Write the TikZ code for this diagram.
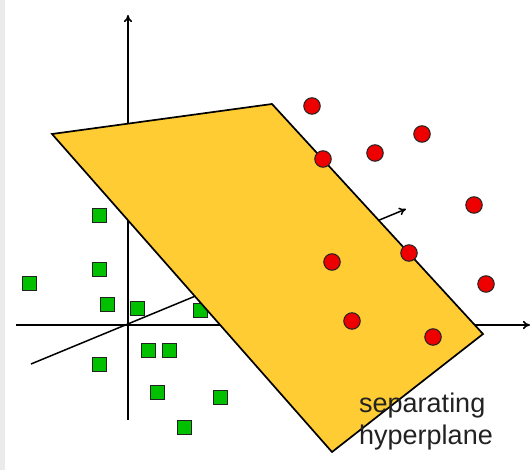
\documentclass[tikz,border=0pt]{standalone}
\usepackage{fontspec}
\setmainfont{Liberation Sans}
\usepackage{xcolor}
\usetikzlibrary{arrows.meta}
\definecolor{plane}{HTML}{FFCC33}
\definecolor{ptgreen}{HTML}{00C000}
\definecolor{ptred}{HTML}{EE0000}
\definecolor{edge}{HTML}{222222}

\begin{document}
\begin{tikzpicture}[x=1pt,y=-1pt,axis/.style={line width=1.5pt,-{To[length=7pt,width=8pt]}},sheet/.style={draw=black,line width=1.7pt,fill=plane,line join=miter},sq/.style={draw=edge,line width=1pt,fill=ptgreen,minimum size=14pt,inner sep=0pt},dot/.style={circle,draw=edge,line width=1pt,fill=ptred,minimum size=16.5pt,inner sep=0pt},txt/.style={align=left,font=\fontsize{27}{32}\selectfont,text=edge,inner sep=0pt}]
\useasboundingbox (0,0) rectangle (532,470);
\fill[black!8] (0,0) rectangle (5,470);
% axes
\coordinate (o) at (128,325);
\coordinate (xl) at (16,325); \coordinate (xr) at (530,325);
\coordinate (yb) at (128,420); \coordinate (yt) at (128,15);
\coordinate (zb) at (31,364); \coordinate (zt) at (406,209);
\draw[axis] (xl)--(xr); \draw[axis] (yb)--(yt); \draw[axis] (zb)--(zt);
% class 1
\foreach \i/\x/\y in {1/99/216,2/99/269,3/29/283,4/107/304,5/137/308,6/200/310,7/148/350,8/169/350,9/99/364,10/157/392,11/220/397,12/184/427}
  \node[sq] (g\i) at (\x,\y) {};
% hyperplane
\coordinate (p1) at (52,134); \coordinate (p2) at (272,104);
\coordinate (p3) at (483,334); \coordinate (p4) at (332,452);
\draw[sheet] (p1)--(p2)--(p3)--(p4)--cycle;
% class 2
\foreach \i/\x/\y in {1/312/106,2/422/134,3/375/153,4/323/159,5/474/205,6/409/253,7/332/262,8/486/284,9/352/321,10/433/337}
  \node[dot] (r\i) at (\x,\y) {};
\node[txt,anchor=west] (sep) at (359,422) {separating\\hyperplane};
\end{tikzpicture}
\end{document}
